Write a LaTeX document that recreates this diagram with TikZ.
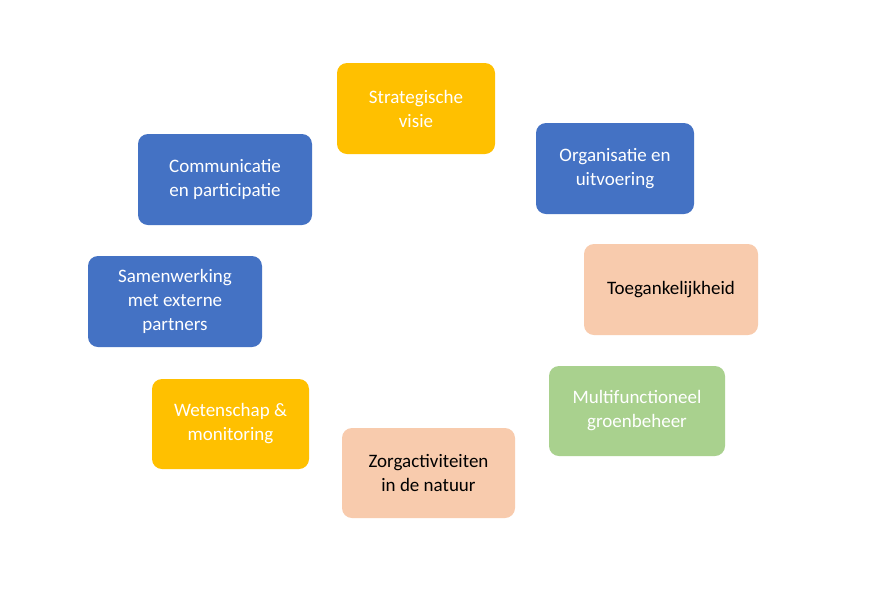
\documentclass[tikz,border=0pt]{standalone}
\usepackage{fontspec}
\setmainfont{Carlito}
\definecolor{gold}{HTML}{FFC000}
\definecolor{blu}{HTML}{4472C4}
\definecolor{peach}{HTML}{F8CBAD}
\definecolor{grn}{HTML}{A9D18E}
\tikzset{
 bx/.style={rounded corners=10pt, align=center, font=\fontsize{19}{24}\selectfont, inner sep=0pt},
}
\newcommand{\bxnode}[7]{\node[bx, fill=#2, text=#3, minimum width={(#6-#4)*1pt}, minimum height={(#7-#5)*1pt}] (#1) at ({(#4+#6)/2*1pt},{-(#5+#7)/2*1pt})}
\begin{document}
\begin{tikzpicture}[x=1pt,y=1pt]
\useasboundingbox[fill=white] (0,0) rectangle (876,-598);
\bxnode{sv}{gold}{white}{337}{63}{495}{154}{Strategische\\visie};
\bxnode{ou}{blu}{white}{536}{123}{694}{214}{Organisatie en\\uitvoering};
\bxnode{tg}{peach}{black}{584}{244}{758}{335}{Toegankelijkheid};
\bxnode{mg}{grn}{white}{549}{366}{725}{456}{Multifunctioneel\\groenbeheer};
\bxnode{zn}{peach}{black}{342}{428}{515}{518}{Zorgactiviteiten\\in de natuur};
\bxnode{wm}{gold}{white}{152}{379}{309}{469}{Wetenschap \&\\monitoring};
\bxnode{sp}{blu}{white}{88}{256}{262}{347}{Samenwerking\\met externe\\partners};
\bxnode{cp}{blu}{white}{138}{134}{312}{225}{Communicatie\\en participatie};
\end{tikzpicture}
\end{document}
